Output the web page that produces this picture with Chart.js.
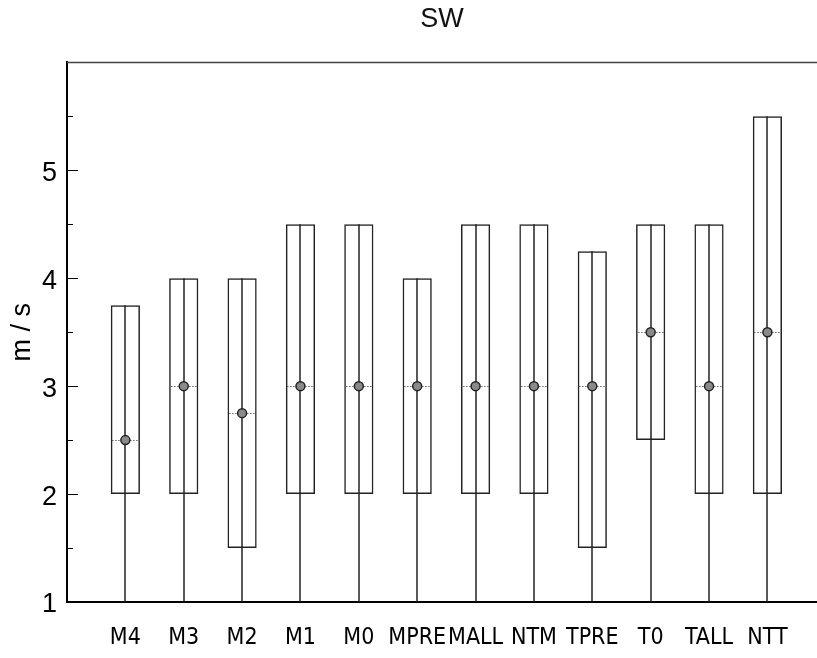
<!DOCTYPE html>
<html lang="en">
<head>
<meta charset="UTF-8">
<title>SW</title>
<script src="https://cdn.jsdelivr.net/npm/chart.js@4"></script>
<style>
  body { margin: 0; background: #fff; }
  canvas { display: block; }
</style>
</head>
<body>
<canvas id="myChart" width="817" height="658"></canvas>
<script>
// box plot values (m/s)
const categories = ['M4', 'M3', 'M2', 'M1', 'M0', 'MPRE', 'MALL', 'NTM', 'TPRE', 'T0', 'TALL', 'NTT'];
const minima   = [1, 1, 1, 1, 1, 1, 1, 1, 1, 1, 1, 1];
const q1       = [2, 2, 1.5, 2, 2, 2, 2, 2, 1.5, 2.5, 2, 2];
const medians  = [2.5, 3, 2.75, 3, 3, 3, 3, 3, 3, 3.5, 3, 3.5];
const q3       = [3.75, 4, 4, 4.5, 4.5, 4, 4.5, 4.5, 4.25, 4.5, 4.5, 5.5];
const maxima   = [3.75, 4, 4, 4.5, 4.5, 4, 4.5, 4.5, 4.25, 4.5, 4.5, 5.5];
const yTickLabels = [1, 2, 3, 4, 5];

const ctx = document.getElementById('myChart').getContext('2d');

// whiskers, dotted median lines, inward ticks and top frame line
const boxExtras = {
    id: 'boxExtras',
    beforeDatasetsDraw: (chart) => {
        const c = chart.ctx;
        const xs = chart.scales.x, ys = chart.scales.y;
        const boxes = chart.getDatasetMeta(0).data;
        c.save();
        categories.forEach((cat, i) => {
            const px = Math.round(xs.getPixelForValue(i + 1));
            c.strokeStyle = '#222';
            c.lineWidth = 1.5;
            c.setLineDash([]);
            c.beginPath();
            c.moveTo(px, ys.getPixelForValue(minima[i]));
            c.lineTo(px, ys.getPixelForValue(maxima[i]));
            c.stroke();

            const half = boxes[i].width / 2;
            const py = Math.round(ys.getPixelForValue(medians[i])) + 0.5;
            c.strokeStyle = '#222';
            c.lineWidth = 1;
            c.setLineDash([1, 2]);
            c.beginPath();
            c.moveTo(px - half + 2, py);
            c.lineTo(px + half - 2, py);
            c.stroke();
        });
        c.restore();
    },
    afterDraw: (chart) => {
        const c = chart.ctx;
        const a = chart.chartArea;
        const ys = chart.scales.y;
        c.save();
        c.strokeStyle = '#444';
        c.lineWidth = 1.5;
        c.beginPath();
        c.moveTo(a.left, a.top);
        c.lineTo(a.right, a.top);
        c.stroke();

        c.strokeStyle = '#000';
        c.lineWidth = 1;
        for (let v = 1.5; v < 6; v += 0.5) {
            const py = Math.round(ys.getPixelForValue(v)) + 0.5;
            const len = Number.isInteger(v) ? 11 : 6;
            c.beginPath();
            c.moveTo(a.left, py);
            c.lineTo(a.left + len, py);
            c.stroke();
        }
        c.restore();
    }
};

new Chart(ctx, {
    type: 'bar',
    data: {
        datasets: [{
            label: 'box',
            data: categories.map((cat, i) => ({ x: i + 1, y: [q1[i], q3[i]] })),
            backgroundColor: 'rgba(0,0,0,0)',
            borderColor: '#222',
            borderWidth: 1.5,
            borderSkipped: false,
            barPercentage: 0.5,
            categoryPercentage: 1,
            grouped: false,
            order: 2
        }, {
            type: 'line',
            label: 'median',
            data: categories.map((cat, i) => ({ x: i + 1, y: medians[i] })),
            showLine: false,
            pointStyle: 'circle',
            pointRadius: 4.5,
            pointBackgroundColor: '#8a8a8a',
            pointBorderColor: '#222',
            pointBorderWidth: 1.5,
            order: 1
        }]
    },
    options: {
        responsive: false,
        animation: false,
        layout: { autoPadding: false, padding: { left: 0, right: 0, top: 0, bottom: 0 } },
        plugins: {
            legend: { display: false },
            tooltip: { enabled: false },
            title: {
                display: true,
                text: 'SW',
                fullSize: false,
                color: '#111',
                font: { family: 'Liberation Sans, Arial, sans-serif', size: 27, weight: 'normal' },
                padding: { top: 3, bottom: 27 }
            }
        },
        scales: {
            x: {
                type: 'linear',
                min: 0,
                max: 12.85,
                offset: false,
                grid: { display: false, drawTicks: false },
                border: { display: true, color: '#000', width: 2 },
                afterBuildTicks: (scale) => {
                    scale.ticks = categories.map((cat, i) => ({ value: i + 1 }));
                },
                afterFit: (scale) => {
                    scale.height = 56;
                    scale.paddingLeft = 0;
                    scale.paddingRight = 0;
                },
                ticks: {
                    autoSkip: false,
                    maxRotation: 0,
                    padding: 22,
                    color: '#000',
                    font: { family: 'DejaVu Sans Condensed, Liberation Sans Narrow, sans-serif', size: 23 },
                    callback: (v) => categories[v - 1] || ''
                }
            },
            y: {
                min: 1,
                max: 6,
                grid: { display: false, drawTicks: false },
                border: { display: true, color: '#000', width: 2 },
                afterBuildTicks: (scale) => {
                    scale.ticks = yTickLabels.map(v => ({ value: v }));
                },
                afterFit: (scale) => { scale.width = 67; },
                ticks: {
                    padding: 10,
                    labelOffset: 3,
                    color: '#000',
                    font: { family: 'Liberation Sans, Arial, sans-serif', size: 27 }
                },
                title: {
                    display: true,
                    text: 'm / s',
                    color: '#000',
                    font: { family: 'Liberation Sans, Arial, sans-serif', size: 27 },
                    padding: { top: 6, bottom: 0 }
                }
            }
        }
    },
    plugins: [boxExtras]
});
</script>
</body>
</html>
